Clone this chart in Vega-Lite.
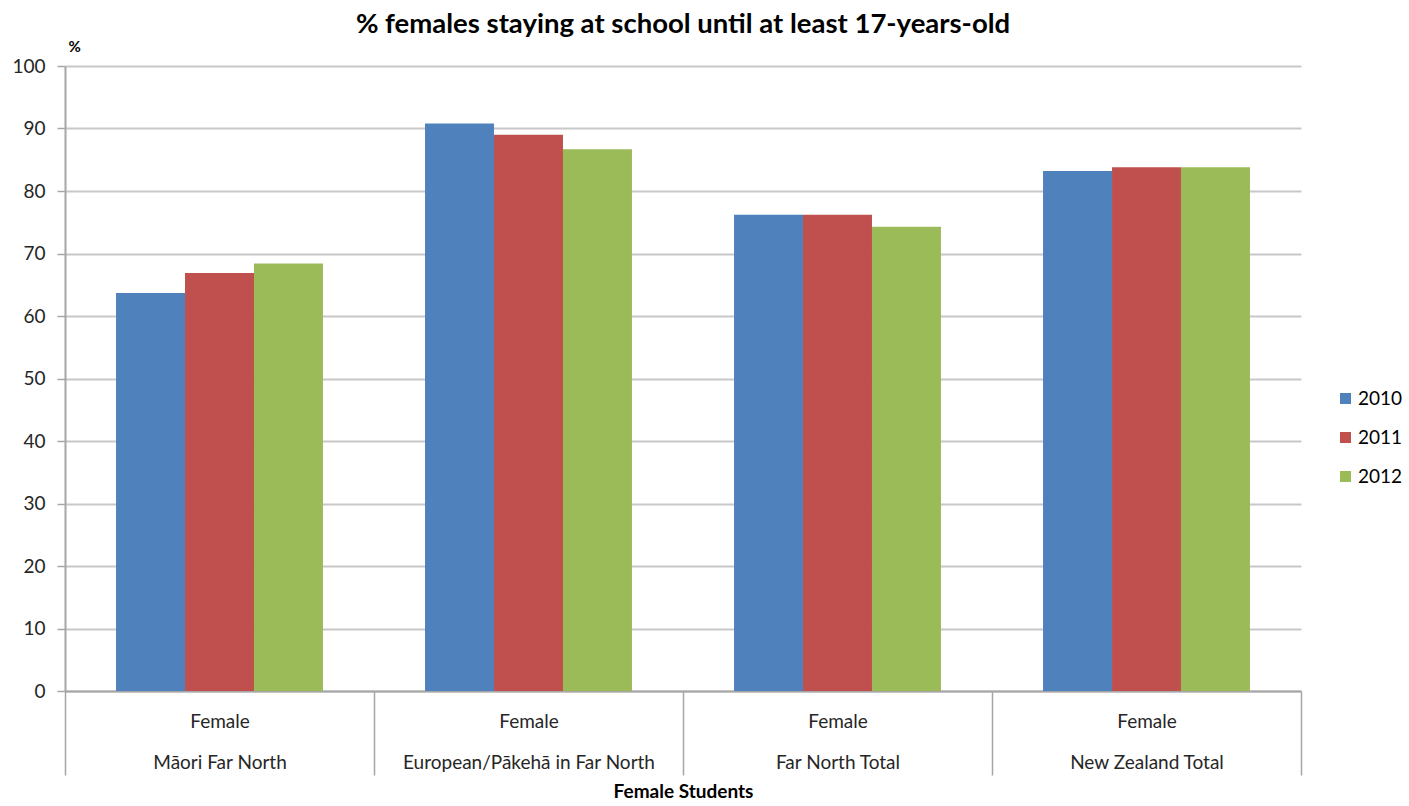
{
  "$schema": "https://vega.github.io/schema/vega-lite/v6.json",
  "width": 1236,
  "height": 625,
  "autosize": {"type": "none"},
  "padding": {"left": 65, "top": 66, "right": 108, "bottom": 115},
  "background": "white",
  "title": {
    "text": "% females staying at school until at least 17-years-old",
    "font": "Lato",
    "fontSize": 27.5,
    "fontWeight": "bold",
    "color": "#000000",
    "anchor": "middle",
    "frame": "group",
    "offset": 1
  },
  "data": {
    "values": [
      {"group": "Māori Far North", "year": "2010", "pct": 63.7},
      {"group": "Māori Far North", "year": "2011", "pct": 66.9},
      {"group": "Māori Far North", "year": "2012", "pct": 68.4},
      {"group": "European/Pākehā in Far North", "year": "2010", "pct": 90.8},
      {"group": "European/Pākehā in Far North", "year": "2011", "pct": 89.0},
      {"group": "European/Pākehā in Far North", "year": "2012", "pct": 86.7},
      {"group": "Far North Total", "year": "2010", "pct": 76.2},
      {"group": "Far North Total", "year": "2011", "pct": 76.2},
      {"group": "Far North Total", "year": "2012", "pct": 74.3},
      {"group": "New Zealand Total", "year": "2010", "pct": 83.2},
      {"group": "New Zealand Total", "year": "2011", "pct": 83.8},
      {"group": "New Zealand Total", "year": "2012", "pct": 83.8}
    ]
  },
  "mark": {"type": "bar"},
  "encoding": {
    "x": {
      "field": "group",
      "type": "nominal",
      "sort": null,
      "scale": {"paddingInner": 0, "paddingOuter": 0},
      "axis": {
        "title": "Female Students",
        "titleFont": "Lato",
        "titleFontSize": 19,
        "titleFontWeight": "bold",
        "titleColor": "#000000",
        "titlePadding": 7,
        "labelExpr": "datum.label ? ['Female', datum.label] : ''",
        "labelFont": "Lato",
        "labelFontSize": 19,
        "labelLimit": 400,
        "labelColor": "#262626",
        "labelLineHeight": 41,
        "labelPadding": -63,
        "labelAngle": 0,
        "tickBand": "extent",
        "tickSize": 84,
        "tickColor": "#a6a6a6",
        "tickWidth": 1.5,
        "domainColor": "#a6a6a6",
        "domainWidth": 2,
        "grid": false
      }
    },
    "xOffset": {
      "field": "year",
      "type": "nominal",
      "scale": {"paddingInner": 0, "paddingOuter": 0.74}
    },
    "y": {
      "field": "pct",
      "type": "quantitative",
      "scale": {"domain": [0, 100], "nice": false},
      "axis": {
        "title": "%",
        "titleAngle": 0,
        "titleAlign": "left",
        "titleBaseline": "middle",
        "titleX": 3,
        "titleY": -20,
        "titleFont": "Lato",
        "titleFontSize": 15,
        "titleFontWeight": "bold",
        "titleColor": "#000000",
        "values": [0, 10, 20, 30, 40, 50, 60, 70, 80, 90, 100],
        "labelFont": "Lato",
        "labelFontSize": 19,
        "labelColor": "#262626",
        "labelPadding": 12,
        "tickSize": 8,
        "tickColor": "#a6a6a6",
        "tickWidth": 1.5,
        "domainColor": "#a6a6a6",
        "domainWidth": 2,
        "gridColor": "#c8c8c8",
        "gridWidth": 2
      }
    },
    "color": {
      "field": "year",
      "type": "nominal",
      "scale": {"domain": ["2010", "2011", "2012"], "range": ["#4F81BD", "#C0504D", "#9BBB59"]},
      "legend": {
        "title": null,
        "orient": "none",
        "legendX": 1271,
        "legendY": 323,
        "symbolType": "square",
        "symbolSize": 121,
        "symbolStrokeWidth": 0,
        "labelFont": "Lato",
        "labelFontSize": 19,
        "labelColor": "#000000",
        "rowPadding": 19,
        "labelOffset": 3
      }
    }
  },
  "config": {
    "view": {"stroke": null}
  }
}
